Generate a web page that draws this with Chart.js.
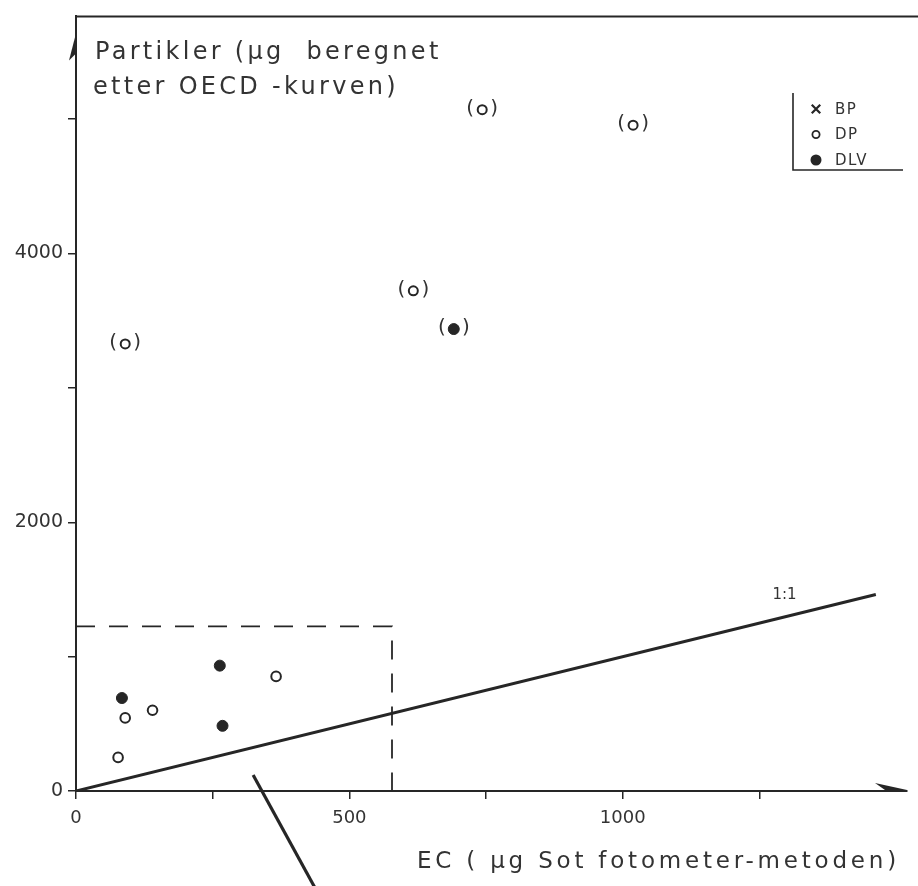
<!DOCTYPE html>
<html>
<head>
<meta charset="utf-8">
<script src="https://cdn.jsdelivr.net/npm/chart.js@4.4.0/dist/chart.umd.min.js"></script>
<style>
  html, body { margin: 0; padding: 0; background: #ffffff; }
  canvas { display: block; }
</style>
</head>
<body>
<canvas id="chart" width="918" height="886"></canvas>
<script>
// ---- text ----
const yTitleLines = ['Partikler (µg  beregnet', 'etter OECD -kurven)'];
const xTitle = 'EC ( µg Sot fotometer-metoden)';
const ratioLabel = '1:1';
const seriesNames = ['BP', 'DP', 'DLV'];

// ---- ticks ----
const xTickValues = [0, 250, 500, 750, 1000, 1250];
const xTickLabels = [0, 500, 1000];
const yTickValues = [0, 1000, 2000, 3000, 4000, 5000];
const yTickLabels = [0, 2000, 4000];

// ---- measurements: EC (photometer) vs. particles (OECD curve), µg ----
// BP: no samples
const bpEC = [];
const bpOECD = [];
// DP, open circles
const dpEC = [77, 90, 140, 366];
const dpOECD = [250, 544, 601, 853];
// DP, values shown in parentheses
const dpBracketEC = [90, 617, 743, 1019];
const dpBracketOECD = [3327, 3723, 5071, 4955];
// DLV, filled circles
const dlvEC = [84, 263, 268];
const dlvOECD = [692, 933, 485];
// DLV, value shown in parentheses
const dlvBracketEC = [691];
const dlvBracketOECD = [3438];

// reference line and the marked low range
const oneToOneEC = [0, 1463];
const oneToOneOECD = [0, 1463];
const ratioLabelEC = 1296;
const ratioLabelOECD = 1455;
const zoomBoxEC = [0, 578, 578];
const zoomBoxOECD = [1225, 1225, 0];
const pointerEC = [324, 449];
const pointerOECD = [119, -809];

// axis ranges
const xMin = 0, xMax = 1520;
const yMin = 0, yMax = 5765;

const INK = '#262626';
const TEXT = '#333333';
const FONT = "'DejaVu Sans', 'Liberation Sans', sans-serif";

const pts = (xs, ys) => xs.map((x, i) => ({ x, y: ys[i] }));

const decor = {
  id: 'decor',
  afterDatasetsDraw(chart) {
    const ctx = chart.ctx;
    ctx.save();
    ctx.fillStyle = TEXT;
    ctx.font = `20px ${FONT}`;
    ctx.textAlign = 'center';
    ctx.textBaseline = 'middle';
    chart.data.datasets.forEach((ds, i) => {
      if (!ds.bracketed) return;
      chart.getDatasetMeta(i).data.forEach(pt => {
        ctx.fillText('(', pt.x - 12, pt.y - 1);
        ctx.fillText(')', pt.x + 12, pt.y - 1);
      });
    });
    ctx.restore();
  },
  afterDraw(chart) {
    const { ctx, chartArea: a, scales: { x, y } } = chart;
    ctx.save();

    // frame line along the top
    ctx.strokeStyle = INK;
    ctx.lineWidth = 2;
    ctx.beginPath();
    ctx.moveTo(a.left, a.top);
    ctx.lineTo(chart.width, a.top);
    ctx.stroke();

    // arrow heads on both axes
    ctx.fillStyle = INK;
    ctx.beginPath();
    ctx.moveTo(a.left + 1, a.top + 13);
    ctx.lineTo(a.left - 7, a.top + 44);
    ctx.lineTo(a.left + 1, a.top + 36);
    ctx.closePath();
    ctx.fill();
    ctx.beginPath();
    ctx.moveTo(a.right, a.bottom - 1);
    ctx.lineTo(a.right - 32, a.bottom - 8);
    ctx.lineTo(a.right - 22, a.bottom - 1);
    ctx.closePath();
    ctx.fill();

    // axis titles
    ctx.fillStyle = TEXT;
    ctx.textAlign = 'left';
    ctx.textBaseline = 'alphabetic';
    ctx.font = `24px ${FONT}`;
    ctx.letterSpacing = '3.3px';
    ctx.fillText(yTitleLines[0], a.left + 19, a.top + 43);
    ctx.fillText(yTitleLines[1], a.left + 17, a.top + 78);
    ctx.font = `23px ${FONT}`;
    ctx.letterSpacing = '3.8px';
    ctx.fillText(xTitle, 417, chart.height - 18);

    // 1:1 label
    ctx.letterSpacing = '0px';
    ctx.font = `15px ${FONT}`;
    ctx.textAlign = 'center';
    ctx.textBaseline = 'middle';
    ctx.fillText(ratioLabel, x.getPixelForValue(ratioLabelEC), y.getPixelForValue(ratioLabelOECD));

    // legend box
    const lx = 793, ly = 93, lw = 110, lh = 77;
    ctx.strokeStyle = INK;
    ctx.lineWidth = 1.6;
    ctx.beginPath();
    ctx.moveTo(lx, ly);
    ctx.lineTo(lx, ly + lh);
    ctx.lineTo(lx + lw, ly + lh);
    ctx.stroke();

    const entries = chart.data.datasets.filter(ds => ds.inLegend);
    ctx.font = `15px ${FONT}`;
    ctx.letterSpacing = '1.5px';
    ctx.textAlign = 'left';
    entries.forEach((ds, i) => {
      const cy = ly + 16 + i * 25.5;
      const cx = lx + 23;
      ctx.strokeStyle = INK;
      ctx.fillStyle = ds.legendFill;
      ctx.lineWidth = ds.pointStyle === 'crossRot' ? 2.2 : 1.8;
      const opts = { pointStyle: ds.pointStyle, rotation: 0, radius: ds.legendRadius, borderWidth: ctx.lineWidth };
      if (Chart.helpers && Chart.helpers.drawPoint) {
        Chart.helpers.drawPoint(ctx, opts, cx, cy);
      } else {
        ctx.beginPath();
        ctx.arc(cx, cy, ds.legendRadius, 0, Math.PI * 2);
        ctx.fill();
        ctx.stroke();
      }
      ctx.fillStyle = TEXT;
      ctx.fillText(ds.label, lx + 42, cy + 1);
    });

    ctx.restore();
  }
};

new Chart(document.getElementById('chart'), {
  type: 'scatter',
  data: {
    datasets: [
      {
        label: seriesNames[0], inLegend: true, data: pts(bpEC, bpOECD),
        pointStyle: 'crossRot', pointRadius: 5, borderColor: INK, borderWidth: 2,
        legendRadius: 6, legendFill: INK
      },
      {
        label: seriesNames[1], inLegend: true, data: pts(dpEC, dpOECD),
        pointStyle: 'circle', pointRadius: 4.8, borderColor: INK, backgroundColor: '#ffffff', borderWidth: 2,
        legendRadius: 3.6, legendFill: '#ffffff'
      },
      {
        label: seriesNames[1], bracketed: true, data: pts(dpBracketEC, dpBracketOECD),
        pointStyle: 'circle', pointRadius: 4.5, borderColor: INK, backgroundColor: '#ffffff', borderWidth: 2
      },
      {
        label: seriesNames[2], inLegend: true, data: pts(dlvEC, dlvOECD),
        pointStyle: 'circle', pointRadius: 5.5, borderColor: INK, backgroundColor: INK, borderWidth: 1,
        legendRadius: 4.6, legendFill: INK
      },
      {
        label: seriesNames[2], bracketed: true, data: pts(dlvBracketEC, dlvBracketOECD),
        pointStyle: 'circle', pointRadius: 5.5, borderColor: INK, backgroundColor: INK, borderWidth: 1
      },
      {
        label: ratioLabel, data: pts(oneToOneEC, oneToOneOECD), showLine: true,
        pointRadius: 0, borderColor: INK, borderWidth: 3
      },
      {
        label: 'range', data: pts(zoomBoxEC, zoomBoxOECD), showLine: true,
        pointRadius: 0, borderColor: INK, borderWidth: 1.8, borderDash: [19, 14]
      },
      {
        label: 'pointer', data: pts(pointerEC, pointerOECD), showLine: true, clip: false,
        pointRadius: 0, borderColor: INK, borderWidth: 3.2
      }
    ]
  },
  options: {
    responsive: false,
    animation: false,
    devicePixelRatio: 1,
    layout: { padding: { top: 14, right: 11, left: 0, bottom: 0 } },
    plugins: { legend: { display: false }, tooltip: { enabled: false } },
    scales: {
      x: {
        type: 'linear', min: xMin, max: xMax,
        afterBuildTicks(s) { s.ticks = xTickValues.map(v => ({ value: v })); },
        afterFit(s) { s.height = 95; },
        border: { color: INK, width: 2 },
        grid: { drawOnChartArea: false, drawTicks: true, tickLength: 8, color: INK, lineWidth: 1.5 },
        ticks: {
          autoSkip: false, maxRotation: 0,
          padding: 9, color: TEXT, font: { family: FONT, size: 18 },
          callback: v => xTickLabels.includes(v) ? String(v) : ''
        }
      },
      y: {
        type: 'linear', min: yMin, max: yMax,
        afterBuildTicks(s) { s.ticks = yTickValues.map(v => ({ value: v })); },
        afterFit(s) { s.width = 76; },
        border: { color: INK, width: 2 },
        grid: { drawOnChartArea: false, drawTicks: true, tickLength: 8, color: INK, lineWidth: 1.5 },
        ticks: {
          autoSkip: false,
          padding: 5, color: TEXT, font: { family: FONT, size: 19 },
          callback: v => yTickLabels.includes(v) ? String(v) : ''
        }
      }
    }
  },
  plugins: [decor]
});
</script>
</body>
</html>
